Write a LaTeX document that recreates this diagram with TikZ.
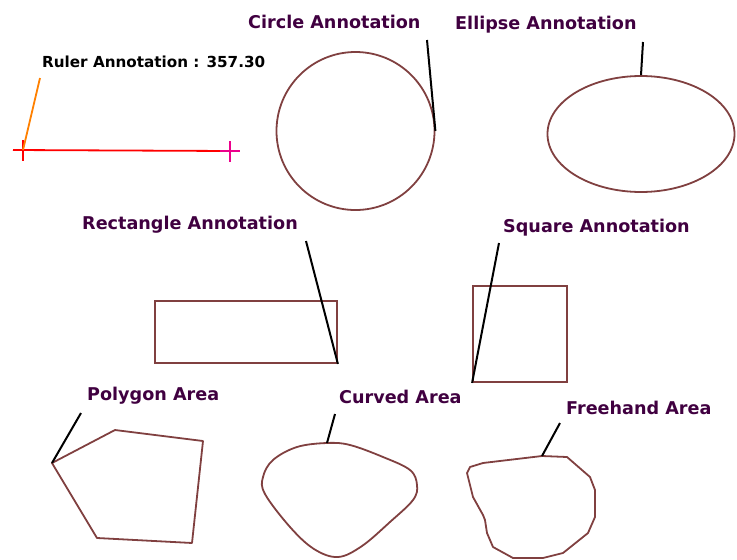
\documentclass[tikz,border=0pt]{standalone}
\usepackage{fontspec}
\setmainfont{DejaVu Sans}
\usepackage{tikz}
\usetikzlibrary{shapes.geometric}

\definecolor{shapebrown}{RGB}{128,64,64}
\definecolor{labelpurple}{RGB}{64,0,64}

\begin{document}
\begin{tikzpicture}[x=1pt, y=-1pt,
    every node/.style={font=\bfseries\fontsize{17.6}{19}\selectfont},
    lbl/.style={anchor=west, inner sep=0pt, text=labelpurple},
    shp/.style={draw=shapebrown, line width=1.8pt},
    lead/.style={draw=black, line width=2pt}]
  \useasboundingbox (0,0) rectangle (737,560);
  % ruler
  \node[anchor=west, inner sep=0pt, font=\bfseries\fontsize{15.2}{17}\selectfont] (rlbl) at (42,62) {Ruler Annotation : 357.30};
  \coordinate (rs) at (23,150);
  \coordinate (re) at (230,151);
  \draw[red, line width=1.8pt] (13,150) -- (re);
  \draw[red, line width=1.8pt] (23,140) -- (23,161);
  \draw[magenta, line width=1.8pt] (220,151) -- (240,151) (230,141) -- (230,162);
  \draw[orange, line width=1.8pt] (40,78) -- (rs);
  % circle
  \node[lbl] (clbl) at (248,22) {Circle Annotation};
  \node[shp, circle, minimum size=158pt, inner sep=0pt] (circ) at (355.5,131) {};
  \draw[lead] (427,40) -- (circ.east);
  % ellipse
  \node[lbl] (elbl) at (455,25) {Ellipse Annotation};
  \node[shp, ellipse, minimum width=187pt, minimum height=116pt, inner sep=0pt] (ell) at (641,134) {};
  \draw[lead] (643,42) -- (ell.north);
  % rectangle
  \node[lbl] (rclbl) at (82,225) {Rectangle Annotation};
  \node[shp, rectangle, minimum width=182pt, minimum height=62pt, inner sep=0pt] (rect) at (246,332) {};
  \draw[lead] (306,241) -- (rect.south east);
  % square
  \node[lbl] (sqlbl) at (503,228) {Square Annotation};
  \node[shp, rectangle, minimum width=94pt, minimum height=96pt, inner sep=0pt] (sq) at (520,334) {};
  \draw[lead] (499,243) -- (sq.south west);
  % polygon area
  \node[lbl] (plbl) at (87,396) {Polygon Area};
  \coordinate (p1) at (52,463);
  \coordinate (p2) at (115,430);
  \coordinate (p3) at (203,441);
  \coordinate (p4) at (192,543);
  \coordinate (p5) at (97,538);
  \draw[shp, line join=round] (p1) -- (p2) -- (p3) -- (p4) -- (p5) -- cycle;
  \draw[lead] (81,413) -- (p1);
  % curved area
  \node[lbl] (cvlbl) at (339,397) {Curved Area};
  \coordinate (cvtop) at (327,443);
  \draw[shp] plot[smooth cycle, tension=0.6] coordinates {(327,443) (350,445) (383,457) (410,470) (417,485) (413,500) (390,522) (362,546) (338,557) (314,549) (290,527) (265,494) (263,477) (273,460) (297,447)};
  \draw[lead] (335,414) -- (cvtop);
  % freehand area
  \node[lbl] (flbl) at (566,408) {Freehand Area};
  \coordinate (ftop) at (542,456);
  \draw[shp, line join=round] (ftop) -- (567,457) -- (590,477) -- (595,490) -- (595,517) -- (588,533) -- (563,553) -- (543,558) -- (513,558) -- (493,547) -- (487,533) -- (485,520) -- (483,515) -- (473,497) -- (467,473) -- (470,467) -- (483,463) -- cycle;
  \draw[lead] (560,423) -- (ftop);
\end{tikzpicture}
\end{document}
